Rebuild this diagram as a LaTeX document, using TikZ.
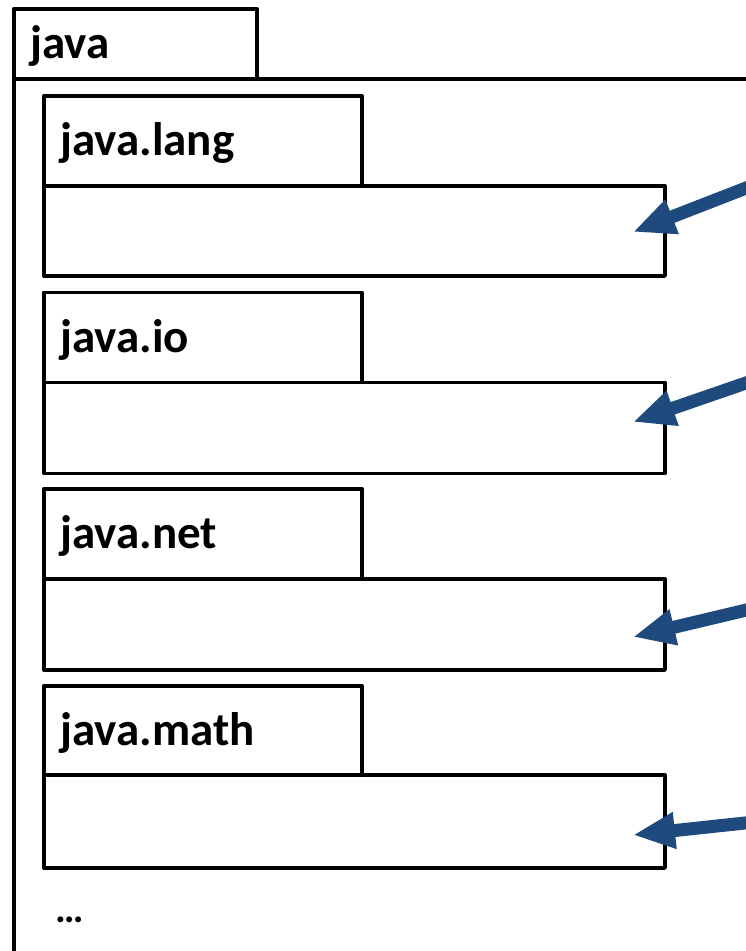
\documentclass[tikz,border=0pt]{standalone}
\usepackage{fontspec}
\setmainfont{Carlito}
\usetikzlibrary{arrows.meta}
\definecolor{arrowblue}{RGB}{31,74,126}
\begin{document}
\begin{tikzpicture}[x=1pt,y=-1pt,
  box/.style={draw, line width=3.8pt, line join=round, inner sep=0pt, anchor=north west},
  lbl/.style={font=\fontsize{47}{56}\selectfont\bfseries, anchor=base west, inner sep=0pt},
  ptr/.style={draw=arrowblue, fill=arrowblue, line width=13pt, -{Triangle[length=42pt,width=34pt]}}]
\useasboundingbox (0,0) rectangle (746,951);
\clip (0,0) rectangle (746,951);
% outer package java
\node[box, minimum width=760pt, minimum height=900pt] (javabody) at (12,77) {};
\node[box, minimum width=243pt, minimum height=70pt] (javatab) at (12,7) {};
\node[lbl] (javalbl) at (30,58) {java};
% java.lang
\node[box, minimum width=318pt, minimum height=90pt] (langtab) at (42,94) {};
\node[box, minimum width=621pt, minimum height=90pt] (langbody) at (42,184) {};
\node[lbl] (langlbl) at (60,155) {java.lang};
% java.io
\node[box, minimum width=318pt, minimum height=90pt] (iotab) at (42,290.5) {};
\node[box, minimum width=621pt, minimum height=91pt] (iobody) at (42,380.5) {};
\node[lbl] (iolbl) at (60,352) {java.io};
% java.net
\node[box, minimum width=318pt, minimum height=90pt] (nettab) at (42,487) {};
\node[box, minimum width=621pt, minimum height=91pt] (netbody) at (42,577) {};
\node[lbl] (netlbl) at (60,548) {java.net};
% java.math
\node[box, minimum width=318pt, minimum height=89pt] (mathtab) at (42,684) {};
\node[box, minimum width=621pt, minimum height=93pt] (mathbody) at (42,773) {};
\node[lbl] (mathlbl) at (60,745) {java.math};
% ellipsis
\node[lbl, font=\fontsize{40}{48}\selectfont\bfseries] (more) at (55,922) {…};
% arrows
\coordinate (s1) at (759,183);   \coordinate (t1) at (633,232);
\coordinate (s2) at (759,378.5); \coordinate (t2) at (633,422);
\coordinate (s3) at (759,607);   \coordinate (t3) at (633,637);
\coordinate (s4) at (759,821.5); \coordinate (t4) at (633,835);
\draw[ptr] (s1) -- (t1);
\draw[ptr] (s2) -- (t2);
\draw[ptr] (s3) -- (t3);
\draw[ptr] (s4) -- (t4);
\end{tikzpicture}
\end{document}
